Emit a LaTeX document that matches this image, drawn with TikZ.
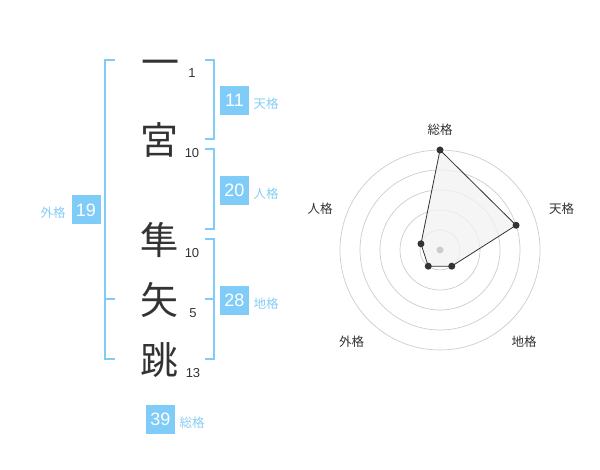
\documentclass[tikz,border=0pt]{standalone}
\usepackage{fontspec}
\setmainfont{Liberation Sans}
\newfontfamily\cjk{Noto Sans CJK JP}
\definecolor{boxblue}{HTML}{80CCF8}
\definecolor{lblblue}{HTML}{86CDF4}
\definecolor{brblue}{HTML}{80CCF8}
\definecolor{ink}{HTML}{333333}
\definecolor{ringgray}{HTML}{CCCCCC}
\definecolor{areafill}{HTML}{F2F2F2}
\tikzset{
  kanji/.style={inner sep=0pt, text=ink, font=\cjk\fontsize{38}{38}\selectfont},
  strokes/.style={inner sep=0pt, text=ink, font=\fontsize{13}{13}\selectfont},
  valbox/.style={fill=boxblue, text=white, minimum size=29pt, inner sep=0pt, font=\fontsize{18}{18}\selectfont},
  vallbl/.style={inner sep=0pt, text=lblblue, font=\cjk\fontsize{12.5}{12.5}\selectfont},
  bracket/.style={draw=brblue, line width=2pt},
  ring/.style={draw=ringgray, line width=0.7pt},
  radarlbl/.style={inner sep=0pt, text=ink, font=\cjk\fontsize{12.5}{12.5}\selectfont},
  radardot/.style={circle, fill=ink, inner sep=0pt, minimum size=7pt},
}
\begin{document}
\begin{tikzpicture}[x=1pt, y=-1pt]
\useasboundingbox (0,0) rectangle (600,470);
% kanji
\node[kanji] (k1) at (160,68) {一};
\node[kanji] (k2) at (159.5,139.5) {宮};
\node[kanji] (k3) at (159.5,240.5) {隼};
\node[kanji] (k4) at (159.5,300.5) {矢};
\node[kanji] (k5) at (159.5,360) {跳};
% stroke counts
\node[strokes] (n1) at (192,73) {1};
\node[strokes] (n2) at (192,153) {10};
\node[strokes] (n3) at (192,253) {10};
\node[strokes] (n4) at (193,313) {5};
\node[strokes] (n5) at (193,373) {13};
% left bracket
\draw[bracket] (115,60) -- (105,60) -- (105,359.5) -- (115,359.5);
\draw[bracket] (105,299.5) -- (115,299.5);
% right brackets
\draw[bracket] (205,60) -- (214,60) -- (214,139.5) -- (205,139.5);
\draw[bracket] (205,149.5) -- (214,149.5) -- (214,229.5) -- (205,229.5);
\draw[bracket] (205,239.5) -- (214,239.5) -- (214,359.5) -- (205,359.5);
\draw[bracket] (205,299.5) -- (214,299.5);
% value boxes
\node[valbox] (b11) at (234.5,100.5) {11};
\node[vallbl] (l11) at (266,104) {天格};
\node[valbox] (b20) at (234.5,190.5) {20};
\node[vallbl] (l20) at (266,194) {人格};
\node[valbox] (b28) at (234.5,300.5) {28};
\node[vallbl] (l28) at (266,304) {地格};
\node[valbox] (b19) at (86,210) {19};
\node[vallbl] (l19) at (53,213) {外格};
\node[valbox] (b39) at (160.5,419.5) {39};
\node[vallbl] (l39) at (192,423) {総格};
% radar
\coordinate (C) at (440,250);
\begin{scope}[shift={(C)}]
  \foreach \r in {20,40,60,80,100} \draw[ring] (0,0) circle[radius=\r pt];
  \coordinate (p1) at (90:100pt);
  \coordinate (p2) at (18:80pt);
  \coordinate (p3) at (-54:20pt);
  \coordinate (p4) at (-126:20pt);
  \coordinate (p5) at (162:20pt);
\end{scope}
\draw[fill=areafill, fill opacity=0.8, draw=ink, line width=0.8pt] (p1) -- (p2) -- (p3) -- (p4) -- (p5) -- cycle;
\fill[ringgray] (C) circle[radius=3.5pt];
\foreach \i in {1,...,5} \node[radardot] (d\i) at (p\i) {};
\node[radarlbl] (r1) at (440,130) {総格};
\node[radarlbl] (r2) at (561.5,208.5) {天格};
\node[radarlbl] (r3) at (524,341.5) {地格};
\node[radarlbl] (r4) at (351.5,341.5) {外格};
\node[radarlbl] (r5) at (320,208.5) {人格};
\end{tikzpicture}
\end{document}
